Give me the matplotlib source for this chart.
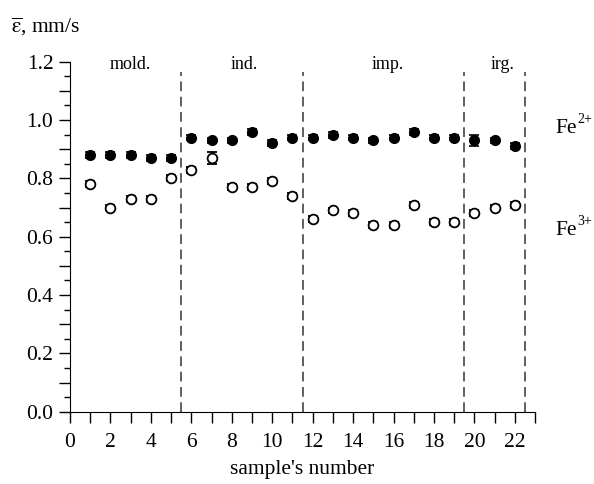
import matplotlib
matplotlib.use('Agg')
import matplotlib.pyplot as plt
from matplotlib.ticker import MultipleLocator, FuncFormatter
from matplotlib.transforms import offset_copy
import numpy as np

plt.rcParams['font.family'] = ['Liberation Serif', 'DejaVu Serif']
plt.rcParams['mathtext.fontset'] = 'stix'
plt.rcParams['lines.scale_dashes'] = False

# values
sample = np.arange(1, 23)
fe2 = [0.88, 0.88, 0.88, 0.87, 0.87, 0.94, 0.93, 0.93, 0.96, 0.92, 0.94,
       0.94, 0.95, 0.94, 0.93, 0.94, 0.96, 0.94, 0.94, 0.93, 0.93, 0.91]
fe2_err = [0.01] * 19 + [0.02, 0.01, 0.01]
fe3 = [0.78, 0.70, 0.73, 0.73, 0.80, 0.83, 0.87, 0.77, 0.77, 0.79, 0.74,
       0.66, 0.69, 0.68, 0.64, 0.64, 0.71, 0.65, 0.65, 0.68, 0.70, 0.71]
fe3_err = [0.01] * 6 + [0.02] + [0.01] * 15

borders = [5.5, 11.5, 19.5, 22.5]
groups = ['mold.', 'ind.', 'imp.', 'irg.']
group_x = [3.0, 8.6, 15.7, 21.4]

fig = plt.figure(figsize=(5.94, 4.84), dpi=100)
ax = fig.add_axes([0.1178, 0.1494, 0.783, 0.7231])

ax.errorbar(sample, fe2, yerr=fe2_err, fmt='o', color='black', ms=7,
            mfc='black', mec='black', ecolor='black', elinewidth=1,
            capsize=3.6, capthick=1.2)
ax.errorbar(sample, fe3, yerr=fe3_err, fmt='o', color='black', ms=7,
            mfc='white', mec='black', mew=1.3, ecolor='black', elinewidth=1,
            capsize=3.6, capthick=1.2)

for b in borders:
    ax.plot([b, b], [0, 1.165], color='#444444', lw=1.2,
            linestyle=(0, (7, 4)), zorder=0)

for name, gx in zip(groups, group_x):
    ax.text(gx, 1.175, name, ha='center', va='baseline', fontsize=13)

# ion labels on the right, superscript drawn as a separate small text
for ion, yb in [('2+', 0.955), ('3+', 0.605)]:
    ax.text(24.0, yb, 'Fe', fontsize=15.5, va='baseline', clip_on=False)
    tr = offset_copy(ax.transData, fig=fig, x=15.8, y=7.5, units='points')
    ax.text(24.0, yb, ion, fontsize=10, va='baseline', transform=tr,
            clip_on=False)

ax.set_xlim(0, 23)
ax.set_ylim(0, 1.2)
ax.spines['top'].set_visible(False)
ax.spines['right'].set_visible(False)

ax.xaxis.set_major_locator(MultipleLocator(1))
ax.xaxis.set_major_formatter(FuncFormatter(
    lambda v, p: '%d' % v if int(round(v)) % 2 == 0 else ''))
ax.yaxis.set_major_locator(MultipleLocator(0.1))
ax.yaxis.set_minor_locator(MultipleLocator(0.05))
ax.yaxis.set_major_formatter(FuncFormatter(
    lambda v, p: '%.1f' % v if int(round(v * 10)) % 2 == 0 else ''))

ax.tick_params(axis='x', direction='out', length=8, width=1, pad=7, labelsize=15.5)
ax.tick_params(axis='y', which='major', direction='out', length=8, width=1, pad=4,
               labelsize=15.5)
ax.tick_params(axis='y', which='minor', direction='out', length=4, width=1)

ax.set_xlabel("sample's number", fontsize=15.5, labelpad=6)
fig.text(0.0185, 0.932, r'$\overline{\mathrm{\varepsilon}}$, mm/s', fontsize=15.5,
         va='baseline')

fig.savefig('out.png', dpi=100)
